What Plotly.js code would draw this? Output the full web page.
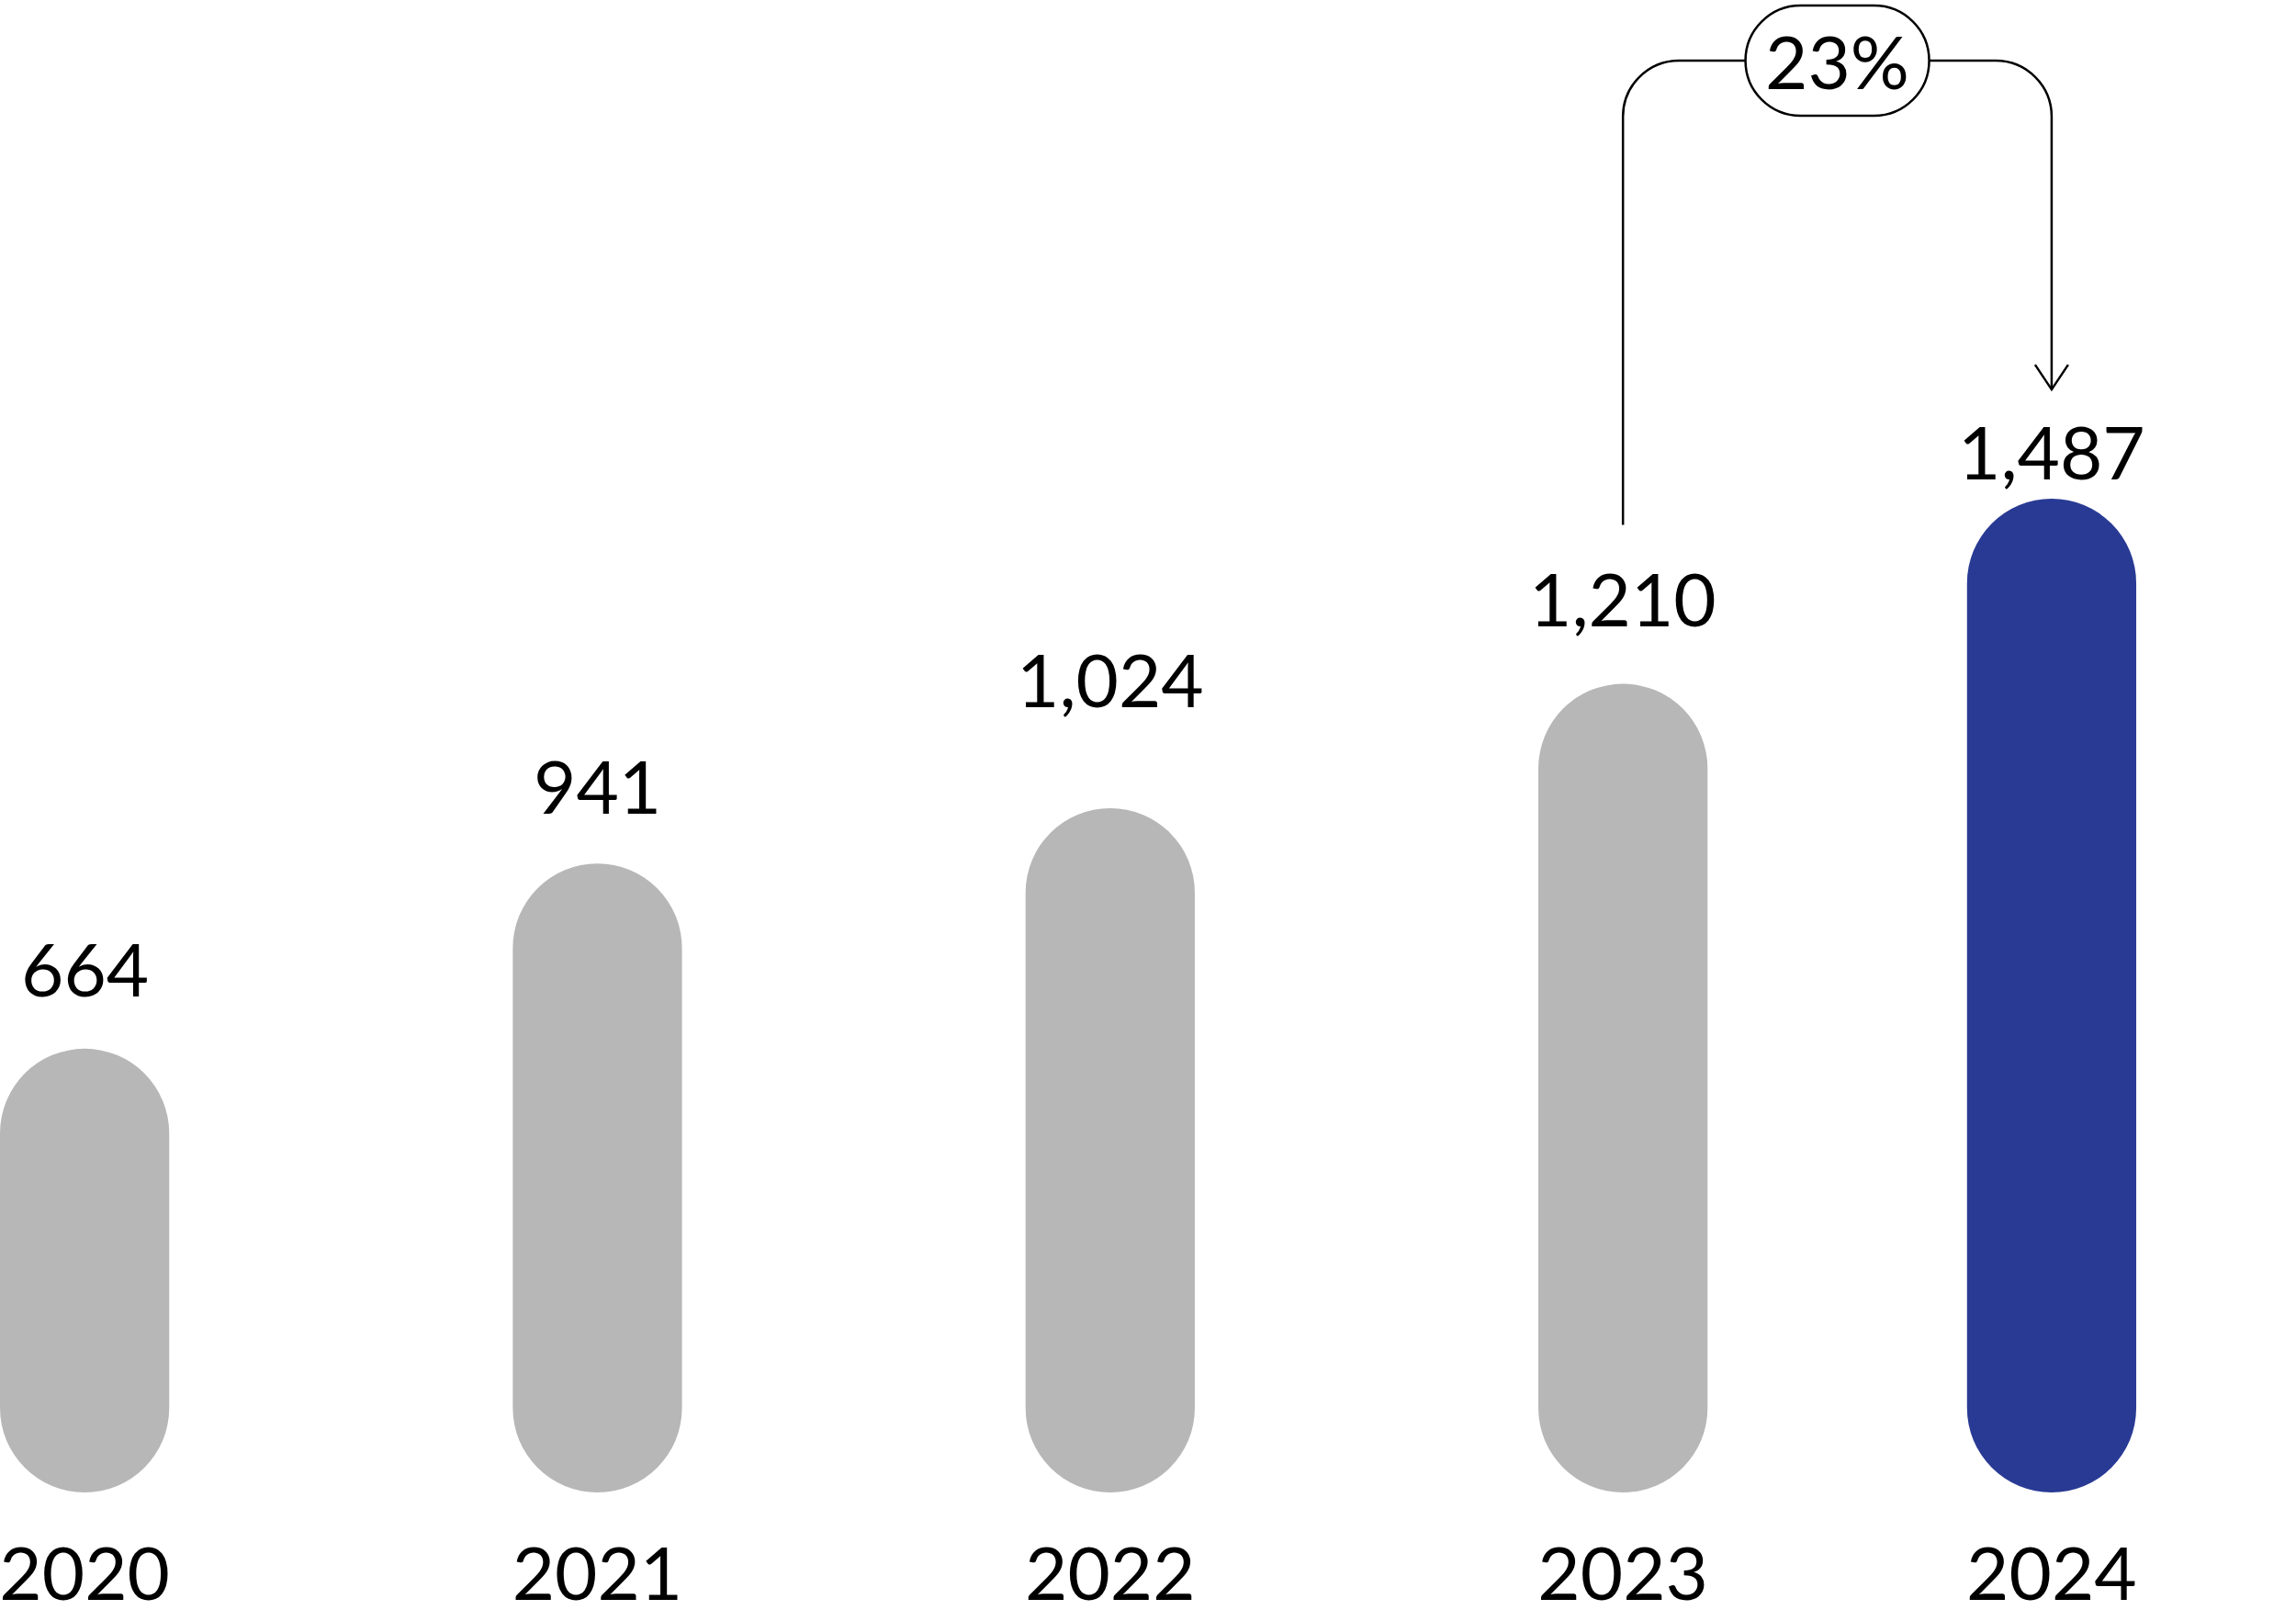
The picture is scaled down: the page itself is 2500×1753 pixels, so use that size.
<!DOCTYPE html>
<html>
<head>
<meta charset="utf-8">
<script src="https://cdn.plot.ly/plotly-3.0.1.min.js"></script>
<style>
  html, body { margin: 0; padding: 0; background: #ffffff; }
  #chart { width: 2500px; height: 1753px; }
</style>
</head>
<body>
<div id="chart"></div>
<script>
// ---- data ----
const years = ['2020', '2021', '2022', '2023', '2024'];
const values = [664, 941, 1024, 1210, 1487];
const highlightYear = '2024';
const compareFrom = '2023';

// ---- styles / layout params ----
const GREY = '#b7b7b7';
const NAVY = '#293a94';
const FONT = 'Lato, "Open Sans", sans-serif';
const FS = 80;
const labelShift = [38, 35, 91, 44, 2]; // px gap of each value label above its bar

const greyYears = years.filter(y => y !== highlightYear);
const greyVals = greyYears.map(y => values[years.indexOf(y)]);
const hiVals = [values[years.indexOf(highlightYear)]];

function barTrace(xs, vs, color, xaxis) {
  return {
    type: 'bar', x: xs, y: vs, base: vs.map(() => 0), xaxis: xaxis, yaxis: 'y',
    width: 0.33, hoverinfo: 'skip', showlegend: false,
    marker: { color: color, cornerradius: '50%', line: { width: 0 } }
  };
}

const traces = [
  barTrace(greyYears, greyVals, GREY, 'x'),
  barTrace([highlightYear], hiVals, NAVY, 'x2')
];

// category axes take serial numbers for annotation positions
const valueAnnotations = years.map((yr, i) => {
  const hi = yr === highlightYear;
  return {
    xref: hi ? 'x2' : 'x', yref: 'y',
    x: hi ? 0 : greyYears.indexOf(yr), y: values[i],
    text: values[i].toLocaleString('en-US'),
    showarrow: false, xanchor: 'center', yanchor: 'bottom',
    yshift: labelShift[i],
    font: { family: FONT, size: FS, color: '#000000' }
  };
});

const tickFont = { family: FONT, size: FS, color: '#000000' };

const layout = {
  width: 2500, height: 1753,
  margin: { l: 0, r: 0, t: 0, b: 100, pad: 0 },
  paper_bgcolor: '#ffffff', plot_bgcolor: '#ffffff',
  barmode: 'overlay',
  showlegend: false,
  font: { family: FONT, color: '#000000' },
  xaxis: {
    type: 'category', categoryorder: 'array', categoryarray: greyYears,
    domain: [0, 0.8], range: [-0.165, 3.417],
    showgrid: false, zeroline: false, showline: false, ticks: '',
    tickfont: tickFont, ticklabelstandoff: 8, anchor: 'y', fixedrange: true
  },
  xaxis2: {
    type: 'category', categoryorder: 'array', categoryarray: [highlightYear],
    domain: [0.8, 1], range: [-0.419, 0.4766],
    showgrid: false, zeroline: false, showline: false, ticks: '',
    tickfont: tickFont, ticklabelstandoff: 8, anchor: 'y', fixedrange: true
  },
  yaxis: {
    range: [-38.5, 2233.4],
    visible: false, showgrid: false, zeroline: false, fixedrange: true
  },
  annotations: valueAnnotations
};

const gd = document.getElementById('chart');
Plotly.newPlot(gd, traces, layout, { displayModeBar: false }).then(() => {
  const fl = gd._fullLayout;
  const xa = fl.xaxis, xa2 = fl.xaxis2, ya = fl.yaxis, gs = fl._size;
  const xOf = (yr) => yr === highlightYear
    ? xa2._offset + xa2.l2p(xa2.d2c(yr))
    : xa._offset + xa.l2p(xa.d2c(yr));
  const yOf = (v) => ya._offset + ya.l2p(v);

  const vFrom = values[years.indexOf(compareFrom)];
  const vTo = values[years.indexOf(highlightYear)];
  const xL = xOf(compareFrom), xR = xOf(highlightYear);
  const legBottom = yOf(vFrom) - 173;
  const tip = yOf(vTo) - 119;
  const hy = 66, r = 61, k = 0.5523;
  const cx = (xL + xR) / 2;
  const pw = 100, ph = 60;

  // absolute pixel (top-left origin) -> pixel offsets from paper (0,1)
  const P = (x, y) => (x - gs.l).toFixed(2) + ',' + (gs.t - y).toFixed(2);

  const bracket =
    'M' + P(xL, legBottom) +
    ' L' + P(xL, hy + r) +
    ' C' + P(xL, hy + r - k * r) + ' ' + P(xL + r - k * r, hy) + ' ' + P(xL + r, hy) +
    ' L' + P(xR - r, hy) +
    ' C' + P(xR - r + k * r, hy) + ' ' + P(xR, hy + r - k * r) + ' ' + P(xR, hy + r) +
    ' L' + P(xR, tip);
  const arrowHead = 'M' + P(xR - 18, tip - 27) + ' L' + P(xR, tip) + ' L' + P(xR + 18, tip - 27);
  const fx = pw - ph;
  const pill =
    'M' + P(cx - fx, hy - ph) + ' L' + P(cx + fx, hy - ph) +
    ' C' + P(cx + fx + k * ph, hy - ph) + ' ' + P(cx + pw, hy - k * ph) + ' ' + P(cx + pw, hy) +
    ' C' + P(cx + pw, hy + k * ph) + ' ' + P(cx + fx + k * ph, hy + ph) + ' ' + P(cx + fx, hy + ph) +
    ' L' + P(cx - fx, hy + ph) +
    ' C' + P(cx - fx - k * ph, hy + ph) + ' ' + P(cx - pw, hy + k * ph) + ' ' + P(cx - pw, hy) +
    ' C' + P(cx - pw, hy - k * ph) + ' ' + P(cx - fx - k * ph, hy - ph) + ' ' + P(cx - fx, hy - ph) + ' Z';

  const base = { type: 'path', xref: 'paper', yref: 'paper', xsizemode: 'pixel', ysizemode: 'pixel',
                 xanchor: 0, yanchor: 1, layer: 'above' };
  const shapes = [
    Object.assign({}, base, { path: bracket, line: { color: '#000000', width: 2.5 } }),
    Object.assign({}, base, { path: arrowHead, line: { color: '#000000', width: 2.5 } }),
    Object.assign({}, base, { path: pill, fillcolor: '#ffffff', line: { color: '#000000', width: 2.5 } })
  ];
  const pct = Math.round((vTo / vFrom - 1) * 100) + '%';
  const pctAnn = {
    xref: 'paper', yref: 'paper', x: 0, y: 1,
    xshift: cx - gs.l, yshift: -(hy - gs.t),
    text: pct, showarrow: false, xanchor: 'center', yanchor: 'middle',
    font: { family: FONT, size: FS, color: '#000000' }
  };
  return Plotly.relayout(gd, { shapes: shapes, annotations: valueAnnotations.concat([pctAnn]) });
});
</script>
</body>
</html>
